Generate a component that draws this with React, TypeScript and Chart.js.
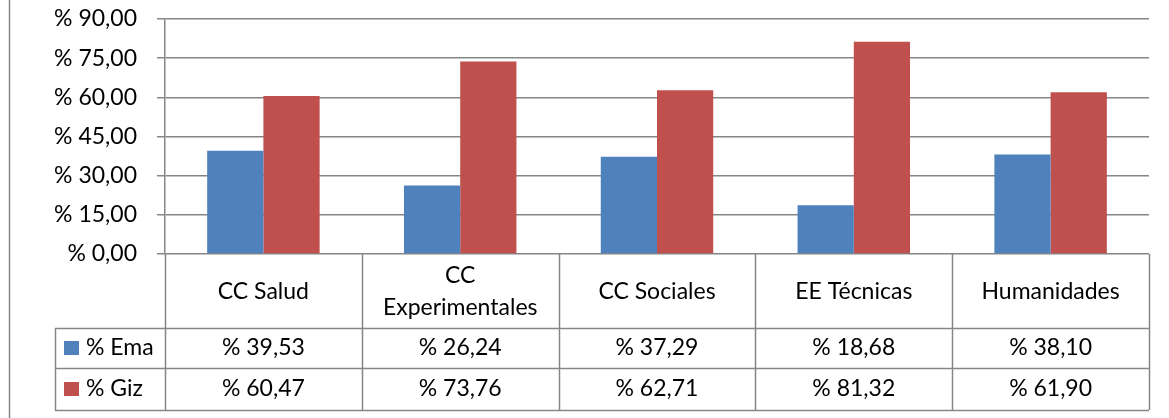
import { useEffect, useRef } from 'react';
import { Chart, registerables } from 'chart.js';

Chart.register(...registerables);

const categories: string[][] = [['CC Salud'], ['CC', 'Experimentales'], ['CC Sociales'], ['EE Técnicas'], ['Humanidades']];
const seriesNames = ['% Ema', '% Giz'];
const emaValues = [39.53, 26.24, 37.29, 18.68, 38.1];
const gizValues = [60.47, 73.76, 62.71, 81.32, 61.9];
const seriesColors = ['#4F81BD', '#C0504D'];
const yMin = 0;
const yMax = 90;
const yStep = 15;

const FONT = 'Lato, "Open Sans", sans-serif';
const FONT_SIZE = 23;
const LINE = '#868686';

const fmt = (v: number) => '% ' + v.toFixed(2).replace('.', ',');

const tablePlugin = {
  id: 'dataTable',
  afterDraw(chart: any) {
    const { ctx, chartArea, scales } = chart;
    const x = scales.x;
    const n = categories.length;
    const colW = (chartArea.right - chartArea.left) / n;
    const top = chartArea.bottom;
    const headerBottom = top + 74;
    const row1Bottom = headerBottom + 40;
    const row2Bottom = row1Bottom + 42;
    const legendLeft = 55;
    ctx.save();
    ctx.strokeStyle = LINE;
    ctx.lineWidth = 1.5;
    // outer chart border at left
    ctx.beginPath();
    ctx.moveTo(9.5, 0);
    ctx.lineTo(9.5, chart.height);
    ctx.stroke();
    // vertical lines
    ctx.beginPath();
    for (let i = 0; i <= n; i++) {
      const px = i < n ? x.getPixelForTick(i) - colW / 2 : x.getPixelForTick(n - 1) + colW / 2;
      ctx.moveTo(Math.round(px) + 0.5, top);
      ctx.lineTo(Math.round(px) + 0.5, row2Bottom);
    }
    ctx.moveTo(legendLeft + 0.5, headerBottom);
    ctx.lineTo(legendLeft + 0.5, row2Bottom);
    // horizontal lines
    [headerBottom, row1Bottom, row2Bottom].forEach((yy) => {
      ctx.moveTo(legendLeft, yy + 0.5);
      ctx.lineTo(chartArea.right, yy + 0.5);
    });
    ctx.stroke();

    ctx.fillStyle = '#000';
    ctx.font = `${FONT_SIZE}px ${FONT}`;
    ctx.textAlign = 'center';
    ctx.textBaseline = 'middle';
    const lineH = 32;
    categories.forEach((lines, i) => {
      const cx = x.getPixelForTick(i);
      const cy = (top + headerBottom) / 2 + 1;
      const startY = cy - ((lines.length - 1) * lineH) / 2;
      lines.forEach((l, j) => ctx.fillText(l, cx, startY + j * lineH));
    });
    const rows = [emaValues, gizValues];
    const rowCenters = [(headerBottom + row1Bottom) / 2, (row1Bottom + row2Bottom) / 2];
    rows.forEach((vals, r) => {
      vals.forEach((v, i) => {
        ctx.fillText(fmt(v), x.getPixelForTick(i), rowCenters[r]);
      });
      ctx.fillStyle = seriesColors[r];
      ctx.fillRect(legendLeft + 9, rowCenters[r] - 7, 15, 14);
      ctx.fillStyle = '#000';
      ctx.textAlign = 'left';
      ctx.fillText(seriesNames[r], legendLeft + 31, rowCenters[r]);
      ctx.textAlign = 'center';
    });
    ctx.restore();
  },
};

export default function App() {
  const ref = useRef<HTMLCanvasElement | null>(null);
  useEffect(() => {
    if (!ref.current) return;
    const chart = new Chart(ref.current, {
      type: 'bar',
      data: {
        labels: categories.map((c) => c.join(' ')),
        datasets: [
          { label: seriesNames[0], data: emaValues, backgroundColor: seriesColors[0], categoryPercentage: 2 / 3.5, barPercentage: 1 },
          { label: seriesNames[1], data: gizValues, backgroundColor: seriesColors[1], categoryPercentage: 2 / 3.5, barPercentage: 1 },
        ],
      },
      options: {
        responsive: false,
        animation: false,
        layout: { padding: { top: 19, right: 20, bottom: 164, left: 0 } },
        plugins: { legend: { display: false }, tooltip: { enabled: false } },
        scales: {
          x: { display: false },
          y: {
            min: yMin,
            max: yMax,
            ticks: {
              stepSize: yStep,
              padding: 20,
              color: '#000',
              font: { family: FONT, size: FONT_SIZE },
              callback: (v: any) => fmt(Number(v)),
            },
            grid: { color: LINE, lineWidth: 1.5, tickLength: 8, drawTicks: true },
            border: { color: LINE, width: 1.5 },
            afterFit: (s: any) => {
              s.width = 165;
              s.paddingTop = 0;
              s.paddingBottom = 0;
            },
          },
        },
      },
      plugins: [tablePlugin],
    });
    return () => chart.destroy();
  }, []);
  return (
    <div style={{ position: 'fixed', left: 0, top: 0, width: 1169, height: 418, background: '#fff' }}>
      <canvas ref={ref} width={1169} height={418} />
    </div>
  );
}
